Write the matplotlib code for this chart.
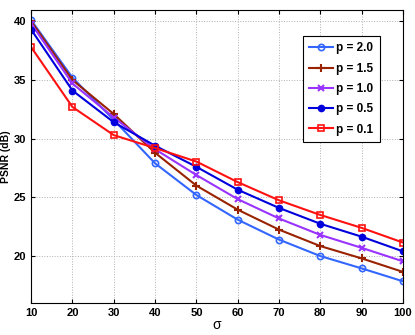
import matplotlib
matplotlib.use("Agg")
import matplotlib.pyplot as plt

sigma = [10, 20, 30, 40, 50, 60, 70, 80, 90, 100]
psnr_p20 = [40.1, 35.2, 31.6, 27.9, 25.2, 23.1, 21.4, 20.0, 18.95, 17.85]
psnr_p15 = [40.0, 35.0, 32.1, 28.8, 26.0, 23.95, 22.25, 20.85, 19.8, 18.65]
psnr_p10 = [39.8, 34.7, 31.8, 29.1, 26.9, 24.85, 23.2, 21.8, 20.7, 19.55]
psnr_p05 = [39.3, 34.1, 31.4, 29.4, 27.6, 25.65, 24.1, 22.75, 21.65, 20.4]
psnr_p01 = [37.8, 32.7, 30.3, 29.2, 28.05, 26.3, 24.75, 23.5, 22.4, 21.15]
labels = ['p = 2.0', 'p = 1.5', 'p = 1.0', 'p = 0.5', 'p = 0.1']

plt.rcParams['font.family'] = ['Liberation Sans', 'DejaVu Sans']
fig = plt.figure(figsize=(4.15, 3.35), dpi=100)
ax = fig.add_axes([0.075, 0.0955, 0.896, 0.876])

styles = [
    dict(color='#3366ff', marker='o', mfc='none', ms=4.5, mew=1.2),
    dict(color='#992200', marker='+', ms=6, mew=1.5),
    dict(color='#9933ff', marker='x', ms=4.5, mew=1.5),
    dict(color='#0000dd', marker='o', ms=4.5),
    dict(color='#ff1111', marker='s', mfc='none', ms=4.5, mew=1.2),
]
series = [psnr_p20, psnr_p15, psnr_p10, psnr_p05, psnr_p01]
for ys, lab, st in zip(series, labels, styles):
    ax.plot(sigma, ys, lw=1.5, label=lab, **st)

ax.set_xlim(10, 100)
ax.set_ylim(16, 41)
ax.set_xticks(sigma)
ax.set_yticks([20, 25, 30, 35, 40])
ax.grid(True, linestyle=':', color='#b0b0b0', lw=0.7)
ax.tick_params(direction='in', top=True, right=True, labelsize=8, length=3)
for t in ax.get_xticklabels() + ax.get_yticklabels():
    t.set_fontweight('bold')
ax.set_xlabel('σ', fontsize=10, labelpad=0)
ax.set_ylabel('PSNR (dB)', fontsize=7.5, fontweight='bold', labelpad=2)

leg = ax.legend(loc='upper right', bbox_to_anchor=(0.938, 0.91), borderaxespad=0,
                fancybox=False, edgecolor='black', framealpha=1,
                prop={'weight': 'bold', 'size': 8.5},
                handlelength=2.0, labelspacing=0.7, borderpad=0.55, handletextpad=0.3)
leg.get_frame().set_linewidth(0.8)

fig.savefig('out.png', dpi=100)
